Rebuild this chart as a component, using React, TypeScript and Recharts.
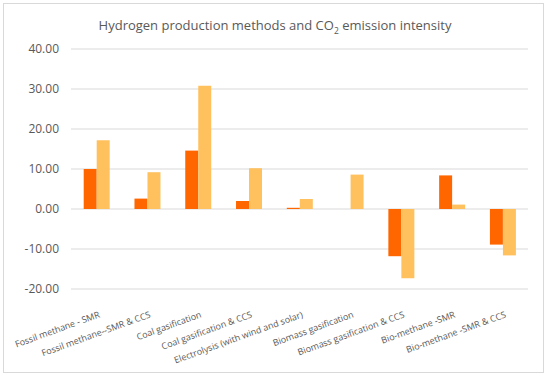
import { BarChart, Bar, XAxis, YAxis, CartesianGrid } from "recharts";

const methods = [
  "Fossil methane - SMR",
  "Fossil methane--SMR & CCS",
  "Coal gasification",
  "Coal gasification & CCS",
  "Electrolysis (with wind and solar)",
  "Biomass gasification",
  "Biomass gasification & CCS",
  "Bio-methane -SMR",
  "Bio-methane -SMR & CCS",
];

const seriesA = [10.0, 2.6, 14.6, 2.0, 0.3, 0, -11.8, 8.4, -8.9];
const seriesB = [17.2, 9.2, 30.8, 10.2, 2.5, 8.6, -17.3, 1.1, -11.6];

const yTicks = [-20, -10, 0, 10, 20, 30, 40];

const data = methods.map((name, i) => ({ name, a: seriesA[i], b: seriesB[i] }));

const FONT = "'Open Sans', 'Liberation Sans', sans-serif";

function SlantTick({ x, y, payload }: { x?: number; y?: number; payload?: { value: string } }) {
  const tx = (x ?? 0) + 4;
  const ty = (y ?? 0) + 20;
  return (
    <text
      x={tx}
      y={ty}
      transform={`rotate(-20, ${tx}, ${ty})`}
      textAnchor="end"
      fontSize={9}
      fontFamily={FONT}
      fill="#595959"
    >
      {payload?.value}
    </text>
  );
}

export default function App() {
  return (
    <div style={{ position: "absolute", left: 0, top: 0, width: 550, height: 378, background: "#fff" }}>
      <div
        style={{
          position: "absolute",
          left: 3,
          top: 3,
          width: 539,
          height: 368,
          border: "1px solid #d9d9d9",
        }}
      />
      <div
        style={{
          position: "absolute",
          left: 0,
          top: 16,
          width: 550,
          textAlign: "center",
          fontFamily: FONT,
          fontSize: 13,
          color: "#595959",
        }}
      >
        Hydrogen production methods and CO<sub style={{ fontSize: 8.5 }}>2</sub> emission intensity
      </div>
      <BarChart
        width={550}
        height={378}
        data={data}
        margin={{ top: 49, right: 22, bottom: 0, left: 0 }}
        barCategoryGap="25%"
        barGap={0}
        style={{ position: "absolute", left: 0, top: 0 }}
      >
        <CartesianGrid vertical={false} stroke="#d9d9d9" />
        <XAxis
          dataKey="name"
          height={89}
          axisLine={false}
          tickLine={false}
          interval={0}
          tick={<SlantTick />}
        />
        <YAxis
          width={71}
          domain={[-20, 40]}
          ticks={yTicks}
          axisLine={false}
          tickLine={false}
          tickSize={0}
          tickMargin={12}
          tickFormatter={(v: number) => v.toFixed(2)}
          tick={{ fontSize: 12, fontFamily: FONT, fill: "#595959" }}
        />
        <Bar dataKey="a" fill="#ff6600" isAnimationActive={false} />
        <Bar dataKey="b" fill="#ffc15e" isAnimationActive={false} />
      </BarChart>
    </div>
  );
}
